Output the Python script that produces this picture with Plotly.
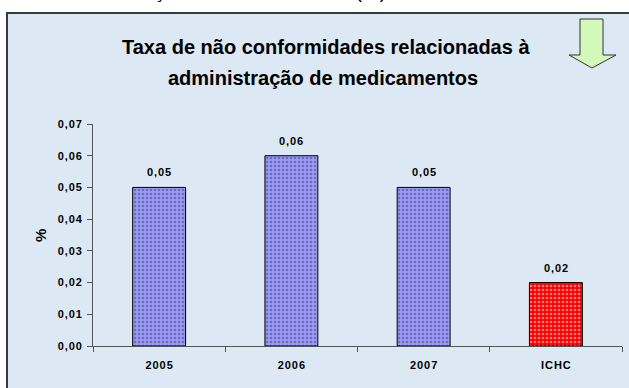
import plotly.graph_objects as go

# Data
categories = ["2005", "2006", "2007", "ICHC"]
values = [0.05, 0.06, 0.05, 0.02]
bar_colors = ["#9999FF", "#9999FF", "#9999FF", "#FF0000"]
y_ticks = [0.0, 0.01, 0.02, 0.03, 0.04, 0.05, 0.06, 0.07]

HAIR = "\u200a"

def spaced(s):
    # open up the letter spacing of short bold labels
    return HAIR.join(s)

def pt_comma(v):
    return f"{v:.2f}".replace(".", ",")

value_labels = [spaced(pt_comma(v)) for v in values]
x_tick_labels = [spaced(c) for c in categories]
y_tick_labels = [spaced(pt_comma(v)) for v in y_ticks]

W, H = 629, 388
ML, MR, MT, MB = 93, 7, 124, 42
PW, PH = W - ML - MR, H - MT - MB

def px(x):
    return (x - ML) / PW

def py(y):
    return (H - MB - y) / PH

FONT = "Liberation Sans, Arial, sans-serif"

fig = go.Figure()
fig.add_trace(go.Bar(
    x=categories, y=values, width=0.4,
    marker=dict(color=bar_colors, line=dict(color="black", width=1),
                pattern=dict(shape=".", fgcolor="white", size=4, solidity=0.35,
                             fillmode="overlay")),
    hoverinfo="skip",
))

shapes = []
# framed panel with light blue fill
shapes.append(dict(type="rect", xref="paper", yref="paper", layer="below",
                   x0=px(7), x1=px(W + 20), y0=py(H + 20), y1=py(13),
                   fillcolor="#DCE8F4", line=dict(color="#3a3a3a", width=2)))
# green downward arrow
arrow_pts = [(580, 19), (603, 19), (603, 55), (616, 55), (592, 68), (569, 55), (580, 55)]
path = "M " + " L ".join(f"{px(x)},{py(y)}" for x, y in arrow_pts) + " Z"
shapes.append(dict(type="path", xref="paper", yref="paper", path=path,
                   fillcolor="#D2F9BA", line=dict(color="#333333", width=1)))

annotations = [
    dict(text="<b>Taxa de não conformidades relacionadas à</b>", xref="paper", yref="paper",
         x=px(326), y=py(47), showarrow=False, xanchor="center", yanchor="middle",
         font=dict(family=FONT, size=20, color="black")),
    dict(text="<b>administração de medicamentos</b>", xref="paper", yref="paper",
         x=px(323), y=py(78), showarrow=False, xanchor="center", yanchor="middle",
         font=dict(family=FONT, size=20, color="black")),
    dict(text="Não conformidades na administração de medicamentos (%)", xref="paper", yref="paper",
         x=px(388), y=py(-9), showarrow=False, xanchor="right", yanchor="middle",
         font=dict(family=FONT, size=20, color="black")),
    dict(text="<b>%</b>", xref="paper", yref="paper", x=px(40), y=py(236),
         showarrow=False, textangle=-90, xanchor="center", yanchor="middle",
         font=dict(family=FONT, size=15, color="black")),
]
# value labels above each bar (category axis positions are serial indices)
for i, (v, lab) in enumerate(zip(values, value_labels)):
    annotations.append(dict(
        text=f"<b>{lab}</b>", x=i, y=v, xref="x", yref="y", showarrow=False,
        xanchor="center", yanchor="middle", yshift=15,
        font=dict(family=FONT, size=11, color="black")))

fig.update_layout(
    width=W, height=H,
    margin=dict(l=ML, r=MR, t=MT, b=MB, pad=0),
    paper_bgcolor="white", plot_bgcolor="rgba(0,0,0,0)",
    shapes=shapes, annotations=annotations,
    showlegend=False, bargap=0.6,
    font=dict(family=FONT, color="black"),
)
fig.update_xaxes(
    type="category", categoryorder="array", categoryarray=categories,
    range=[-0.5, len(categories) - 0.5],
    tickvals=categories, ticktext=x_tick_labels,
    showline=True, linecolor="#555555", linewidth=1,
    ticks="outside", tickson="boundaries", ticklen=5, tickcolor="#555555",
    tickfont=dict(family=FONT, size=11, color="black", weight="bold"),
    ticklabelstandoff=9, showgrid=False, fixedrange=True,
)
fig.update_yaxes(
    range=[0, 0.07], tickvals=y_ticks, ticktext=y_tick_labels,
    showline=True, linecolor="#555555", linewidth=1,
    ticks="outside", ticklen=5, tickcolor="#555555",
    tickfont=dict(family=FONT, size=11, color="black", weight="bold"),
    ticklabelstandoff=3,
    showgrid=False, zeroline=False, fixedrange=True,
)

fig.write_html("out.html")
